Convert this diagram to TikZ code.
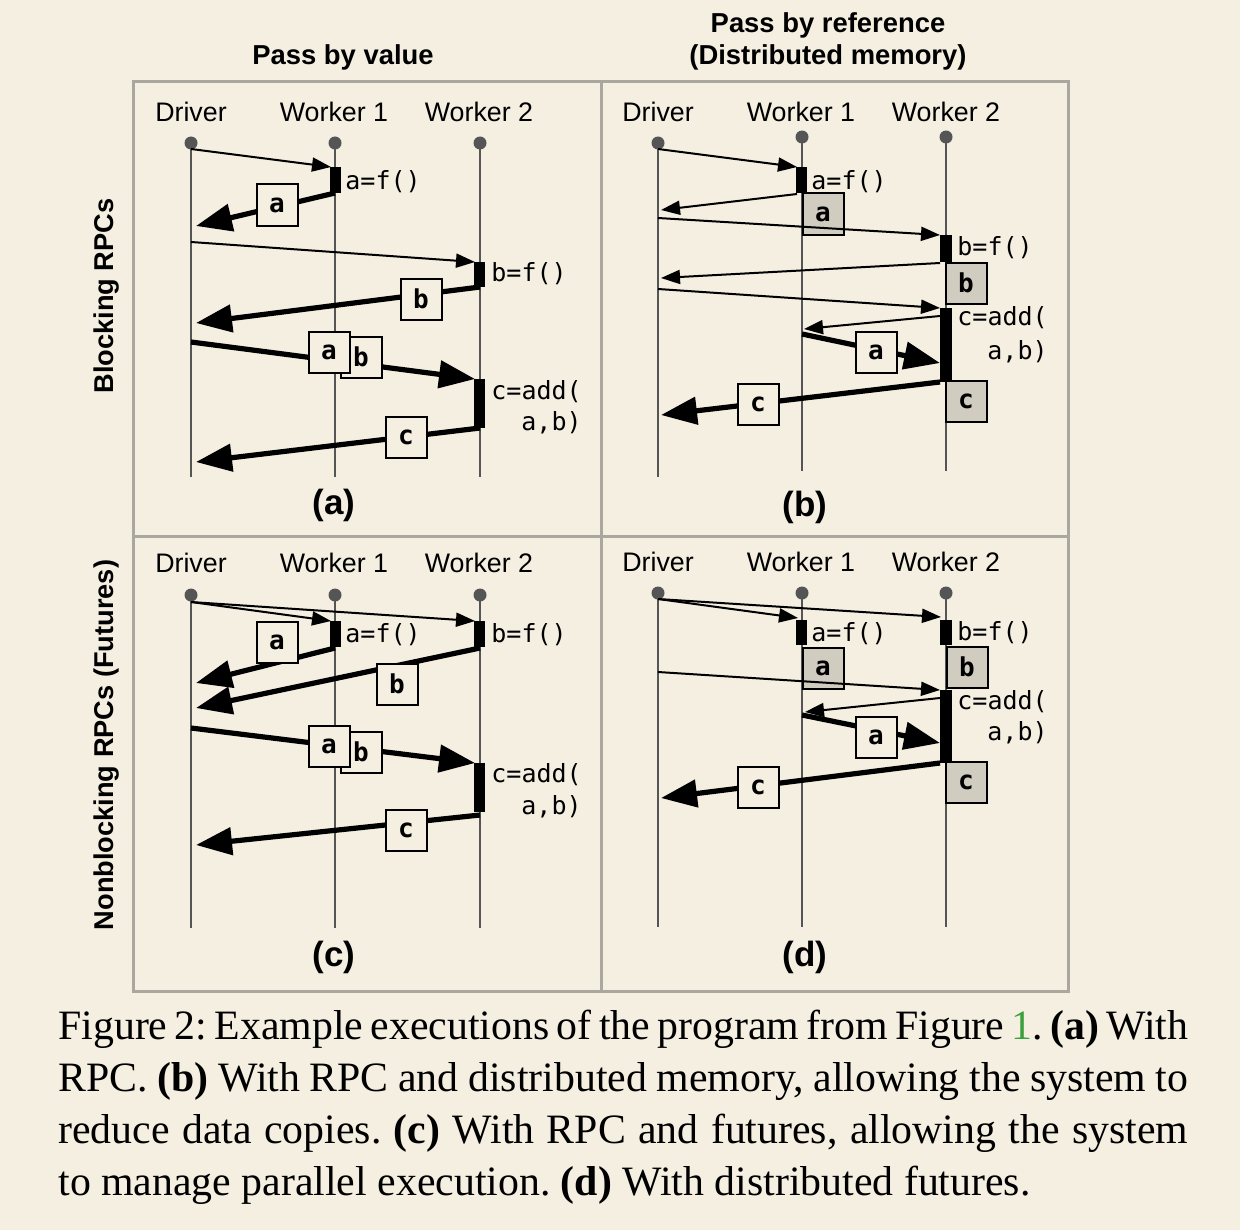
\documentclass[tikz,border=0pt]{standalone}
\usepackage{fontspec}
\setmainfont{Liberation Serif}
\newfontfamily\lsans{Liberation Sans}
\newfontfamily\dmono{DejaVu Sans Mono}
\usetikzlibrary{arrows.meta}
\definecolor{bg}{RGB}{244,239,225}
\definecolor{lifegray}{RGB}{85,85,85}
\definecolor{framegray}{RGB}{170,168,158}
\definecolor{refgray}{RGB}{208,204,192}
\definecolor{linkgreen}{RGB}{60,160,60}
\begin{document}
\begin{tikzpicture}[x=0.5pt,y=-0.5pt,
  lifeline/.style={draw=lifegray, line width=1.2pt},
  ldot/.style={circle, fill=lifegray, inner sep=0pt, minimum size=6.5pt},
  actor/.style={font=\fontsize{13.4pt}{16pt}\selectfont\lsans, anchor=base, inner sep=0pt},
  head/.style={font=\fontsize{13.7pt}{16pt}\selectfont\lsans\bfseries, anchor=base, inner sep=0pt},
  side/.style={font=\fontsize{13.6pt}{16pt}\selectfont\lsans\bfseries, rotate=90, inner sep=0pt},
  sub/.style={font=\fontsize{17.5pt}{20pt}\selectfont\lsans\bfseries, inner sep=0pt},
  code/.style={font=\fontsize{12.5pt}{15pt}\selectfont\dmono, anchor=west, inner sep=0pt},
  thinmsg/.style={line width=1pt, -{Triangle[length=9.5pt,width=7pt]}},
  thickmsg/.style={line width=2.6pt, -{Triangle[length=18pt,width=13.5pt]}},
  busy/.style={fill=black},
  vbox/.style={draw=black, line width=1pt, fill=bg, minimum size=20.5pt, inner sep=0pt, font=\fontsize{13pt}{13pt}\selectfont\dmono\bfseries},
  rbox/.style={vbox, fill=refgray},
  frame/.style={draw=framegray, line width=1.5pt}
]
\fill[bg] (0,0) rectangle (1240,1230);
\useasboundingbox (0,0) rectangle (1240,1230);

% frame
\draw[frame] (133,82) rectangle (1068,991);
\coordinate (fT) at (601,82); \coordinate (fB) at (601,991);
\coordinate (fL) at (133,536); \coordinate (fR) at (1068,536);
\draw[frame] (fT) -- (fB);
\draw[frame] (fL) -- (fR);

% headers
\node[head] (h1) at (343,65) {Pass by value};
\node[head] (h2) at (828,33) {Pass by reference};
\node[head] (h3) at (828,65) {(Distributed memory)};
\node[side] (s1) at (107,296) {Blocking RPCs};
\node[side] (s2) at (107,745) {Nonblocking RPCs (Futures)};

% ================= panel (a)
\coordinate (aD9) at (191,477); \coordinate (aW19) at (335,477); \coordinate (aW29) at (480,477);
\node[ldot] (aD0) at (191,143) {}; \node[ldot] (aW10) at (335,143) {}; \node[ldot] (aW20) at (480,143) {};
\draw[lifeline] (aD0.center) -- (aD9);
\draw[lifeline] (aW10.center) -- (aW19);
\draw[lifeline] (aW20.center) -- (aW29);
\node[actor] (aDl) at (191,122) {Driver};
\node[actor] (aW1l) at (334,122) {Worker 1};
\node[actor] (aW2l) at (479,122) {Worker 2};

\coordinate (a1s) at (191,149); \coordinate (a1e) at (331,167);
\draw[thinmsg] (a1s) -- (a1e);
\fill[busy] (330,167) rectangle (341,193);
\node[code] (a1c) at (345,182) {a=f()};
\coordinate (a2s) at (335,193); \coordinate (a2e) at (196,226);
\draw[thickmsg] (a2s) -- (a2e);
\node[vbox] (a2b) at (277,205) {a};

\coordinate (a3s) at (191,242); \coordinate (a3e) at (475,262);
\draw[thinmsg] (a3s) -- (a3e);
\fill[busy] (474,262) rectangle (485,287);
\node[code] (a3c) at (491,274) {b=f()};
\coordinate (a4s) at (480,287); \coordinate (a4e) at (196,323);
\draw[thickmsg] (a4s) -- (a4e);
\node[vbox] (a4b) at (421,299) {b};

\coordinate (a5s) at (191,342); \coordinate (a5e) at (475,379);
\draw[thickmsg] (a5s) -- (a5e);
\node[vbox] (a5b) at (361,357) {b};
\node[vbox] (a5a) at (329,352) {a};
\fill[busy] (474,379) rectangle (485,428);
\node[code] (a5c) at (491,392) {c=add(};
\node[code] (a5d) at (521,423) {a,b)};
\coordinate (a6s) at (480,428); \coordinate (a6e) at (196,462);
\draw[thickmsg] (a6s) -- (a6e);
\node[vbox] (a6b) at (406,437) {c};
\node[sub] (asub) at (334,505) {(a)};

% ================= panel (b)
\coordinate (bD9) at (658,477); \coordinate (bW19) at (802,471); \coordinate (bW29) at (946,471);
\node[ldot] (bD0) at (658,143) {}; \node[ldot] (bW10) at (802,137) {}; \node[ldot] (bW20) at (946,137) {};
\draw[lifeline] (bD0.center) -- (bD9);
\draw[lifeline] (bW10.center) -- (bW19);
\draw[lifeline] (bW20.center) -- (bW29);
\node[actor] (bDl) at (658,122) {Driver};
\node[actor] (bW1l) at (801,122) {Worker 1};
\node[actor] (bW2l) at (946,122) {Worker 2};

\coordinate (b1s) at (658,149); \coordinate (b1e) at (797,167);
\draw[thinmsg] (b1s) -- (b1e);
\fill[busy] (796,167) rectangle (807,193);
\node[code] (b1c) at (811,182) {a=f()};
\coordinate (b2s) at (797,194); \coordinate (b2e) at (661,210);
\draw[thinmsg] (b2s) -- (b2e);
\node[rbox] (b2b) at (823,214) {a};
\coordinate (b3s) at (658,218); \coordinate (b3e) at (940,235);
\draw[thinmsg] (b3s) -- (b3e);
\fill[busy] (940,235) rectangle (952,262);
\node[code] (b3c) at (957,248) {b=f()};
\coordinate (b4s) at (940,263); \coordinate (b4e) at (661,278);
\draw[thinmsg] (b4s) -- (b4e);
\node[rbox] (b4b) at (966,283) {b};
\coordinate (b5s) at (658,289); \coordinate (b5e) at (940,308);
\draw[thinmsg] (b5s) -- (b5e);
\fill[busy] (940,308) rectangle (952,382);
\node[code] (b5c) at (957,318) {c=add(};
\node[code] (b5d) at (987,352) {a,b)};
\coordinate (b6s) at (940,316); \coordinate (b6e) at (804,329);
\draw[thinmsg] (b6s) -- (b6e);
\coordinate (b7s) at (802,334); \coordinate (b7e) at (940,363);
\draw[thickmsg] (b7s) -- (b7e);
\node[vbox] (b7b) at (876,352) {a};
\coordinate (b8s) at (940,382); \coordinate (b8e) at (661,415);
\draw[thickmsg] (b8s) -- (b8e);
\node[vbox] (b8b) at (758,404) {c};
\node[rbox] (b8r) at (966,401) {c};
\node[sub] (bsub) at (805,507) {(b)};

% ================= panel (c)
\coordinate (cD9) at (191,928); \coordinate (cW19) at (335,928); \coordinate (cW29) at (480,928);
\node[ldot] (cD0) at (191,595) {}; \node[ldot] (cW10) at (335,595) {}; \node[ldot] (cW20) at (480,595) {};
\draw[lifeline] (cD0.center) -- (cD9);
\draw[lifeline] (cW10.center) -- (cW19);
\draw[lifeline] (cW20.center) -- (cW29);
\node[actor] (cDl) at (191,572) {Driver};
\node[actor] (cW1l) at (334,572) {Worker 1};
\node[actor] (cW2l) at (479,572) {Worker 2};

\coordinate (c1s) at (191,602); \coordinate (c1e) at (331,621); \coordinate (c2e) at (475,621);
\draw[thinmsg] (c1s) -- (c1e);
\draw[thinmsg] (c1s) -- (c2e);
\fill[busy] (330,621) rectangle (341,647);
\fill[busy] (474,621) rectangle (485,647);
\node[code] (c1c) at (345,635) {a=f()};
\node[code] (c2c) at (491,635) {b=f()};
\coordinate (c3s) at (335,648); \coordinate (c3e) at (196,683);
\draw[thickmsg] (c3s) -- (c3e);
\node[vbox] (c3b) at (277,642) {a};
\coordinate (c4s) at (480,648); \coordinate (c4e) at (196,708);
\draw[thickmsg] (c4s) -- (c4e);
\node[vbox] (c4b) at (397,684) {b};
\coordinate (c5s) at (191,728); \coordinate (c5e) at (475,763);
\draw[thickmsg] (c5s) -- (c5e);
\node[vbox] (c5b) at (361,752) {b};
\node[vbox] (c5a) at (329,746) {a};
\fill[busy] (474,763) rectangle (485,812);
\node[code] (c5c) at (491,775) {c=add(};
\node[code] (c5d) at (521,807) {a,b)};
\coordinate (c6s) at (480,815); \coordinate (c6e) at (196,845);
\draw[thickmsg] (c6s) -- (c6e);
\node[vbox] (c6b) at (406,830) {c};
\node[sub] (csub) at (334,957) {(c)};

% ================= panel (d)
\coordinate (dD9) at (658,927); \coordinate (dW19) at (802,927); \coordinate (dW29) at (946,927);
\node[ldot] (dD0) at (658,593) {}; \node[ldot] (dW10) at (802,593) {}; \node[ldot] (dW20) at (946,593) {};
\draw[lifeline] (dD0.center) -- (dD9);
\draw[lifeline] (dW10.center) -- (dW19);
\draw[lifeline] (dW20.center) -- (dW29);
\node[actor] (dDl) at (658,571) {Driver};
\node[actor] (dW1l) at (801,571) {Worker 1};
\node[actor] (dW2l) at (946,571) {Worker 2};

\coordinate (d1s) at (658,599); \coordinate (d1e) at (798,618); \coordinate (d2e) at (941,617);
\draw[thinmsg] (d1s) -- (d1e);
\draw[thinmsg] (d1s) -- (d2e);
\fill[busy] (796,620) rectangle (807,645);
\fill[busy] (940,620) rectangle (952,645);
\node[code] (d1c) at (811,634) {a=f()};
\node[code] (d2c) at (957,633) {b=f()};
\node[rbox] (d1r) at (823,668) {a};
\node[rbox] (d2r) at (967,667) {b};
\coordinate (d3s) at (658,672); \coordinate (d3e) at (940,690);
\draw[thinmsg] (d3s) -- (d3e);
\fill[busy] (940,690) rectangle (952,763);
\node[code] (d3c) at (957,702) {c=add(};
\node[code] (d3d) at (987,733) {a,b)};
\coordinate (d4s) at (940,698); \coordinate (d4e) at (805,712);
\draw[thinmsg] (d4s) -- (d4e);
\coordinate (d5s) at (802,715); \coordinate (d5e) at (940,743);
\draw[thickmsg] (d5s) -- (d5e);
\node[vbox] (d5b) at (876,737) {a};
\coordinate (d6s) at (940,763); \coordinate (d6e) at (661,798);
\draw[thickmsg] (d6s) -- (d6e);
\node[vbox] (d6b) at (758,787) {c};
\node[rbox] (d6r) at (966,782) {c};
\node[sub] (dsub) at (805,957) {(d)};

% caption
\node[anchor=base west, inner sep=0pt, text width=565pt, align=justify,
      font=\fontsize{20.9pt}{26pt}\selectfont] (cap) at (58,1039)
 {\frenchspacing\spaceskip=0.25em plus 0.2em minus 0.12em
  Figure 2: Example executions of the program from Figure \textcolor{linkgreen}{1}. \textbf{(a)} With\linebreak
  RPC. \textbf{(b)} With RPC and distributed memory, allowing the system to\linebreak
  reduce data copies. \textbf{(c)} With RPC and futures, allowing the system\linebreak
  to manage parallel execution. \textbf{(d)} With distributed futures.};
\end{tikzpicture}
\end{document}
